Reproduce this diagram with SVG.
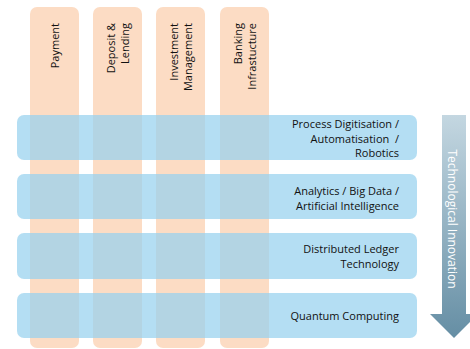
<svg xmlns="http://www.w3.org/2000/svg" width="470" height="349" viewBox="0 0 470 349">
  <defs>
    <linearGradient id="arrowGrad" x1="0" y1="115" x2="0" y2="338" gradientUnits="userSpaceOnUse">
      <stop offset="0" stop-color="#c4d7e1"/>
      <stop offset="1" stop-color="#658ea4"/>
    </linearGradient>
  </defs>
  <style>
    .col { fill: #fcdcc4; }
    .row { fill: #97d1ee; fill-opacity: 0.72; }
    .lbl { font-family: "Open Sans", "Noto Sans", sans-serif; font-size: 11px; fill: #111111; }
    .arrowlbl { font-family: "Open Sans", "Noto Sans", sans-serif; font-size: 12px; fill: #ffffff; }
  </style>
  <rect width="470" height="349" fill="#ffffff"/>

  <g id="col-payment">
    <rect class="col" x="30" y="7" width="49" height="341" rx="7"/>
    <text class="lbl" text-anchor="end" transform="translate(58.5,23) rotate(-90)">Payment</text>
  </g>
  <g id="col-deposit">
    <rect class="col" x="93" y="7" width="49" height="341" rx="7"/>
    <text class="lbl" text-anchor="end" transform="translate(114.5,23) rotate(-90)">Deposit &amp;</text>
    <text class="lbl" text-anchor="end" transform="translate(128.5,23) rotate(-90)">Lending</text>
  </g>
  <g id="col-investment">
    <rect class="col" x="156" y="7" width="49" height="341" rx="7"/>
    <text class="lbl" text-anchor="end" transform="translate(177.5,23) rotate(-90)">Investment</text>
    <text class="lbl" text-anchor="end" transform="translate(191.5,23) rotate(-90)">Management</text>
  </g>
  <g id="col-banking">
    <rect class="col" x="220" y="7" width="49" height="341" rx="7"/>
    <text class="lbl" text-anchor="end" transform="translate(241.5,23) rotate(-90)">Banking</text>
    <text class="lbl" text-anchor="end" transform="translate(255.5,23) rotate(-90)">Infrastucture</text>
  </g>

  <g id="row-process">
    <rect class="row" x="17" y="115" width="400" height="45" rx="7"/>
    <text class="lbl" text-anchor="end" x="399" y="128">Process Digitisation /</text>
    <text class="lbl" text-anchor="end" x="399" y="142.5">Automatisation&#160; /</text>
    <text class="lbl" text-anchor="end" x="399" y="157">Robotics</text>
  </g>
  <g id="row-analytics">
    <rect class="row" x="17" y="174" width="400" height="45" rx="7"/>
    <text class="lbl" text-anchor="end" x="399" y="195">Analytics / Big Data /</text>
    <text class="lbl" text-anchor="end" x="399" y="209.5">Artificial Intelligence</text>
  </g>
  <g id="row-dlt">
    <rect class="row" x="17" y="233" width="400" height="46" rx="7"/>
    <text class="lbl" text-anchor="end" x="399" y="253">Distributed Ledger</text>
    <text class="lbl" text-anchor="end" x="399" y="268">Technology</text>
  </g>
  <g id="row-quantum">
    <rect class="row" x="17" y="293" width="400" height="45" rx="7"/>
    <text class="lbl" text-anchor="end" x="399" y="320">Quantum Computing</text>
  </g>

  <g id="arrow-innovation">
    <polygon points="442,115 466,115 466,314 478,314 454,338 430,314 442,314" fill="url(#arrowGrad)"/>
    <text class="arrowlbl" text-anchor="middle" transform="translate(447.5,219) rotate(90)">Technological Innovation</text>
  </g>
</svg>
